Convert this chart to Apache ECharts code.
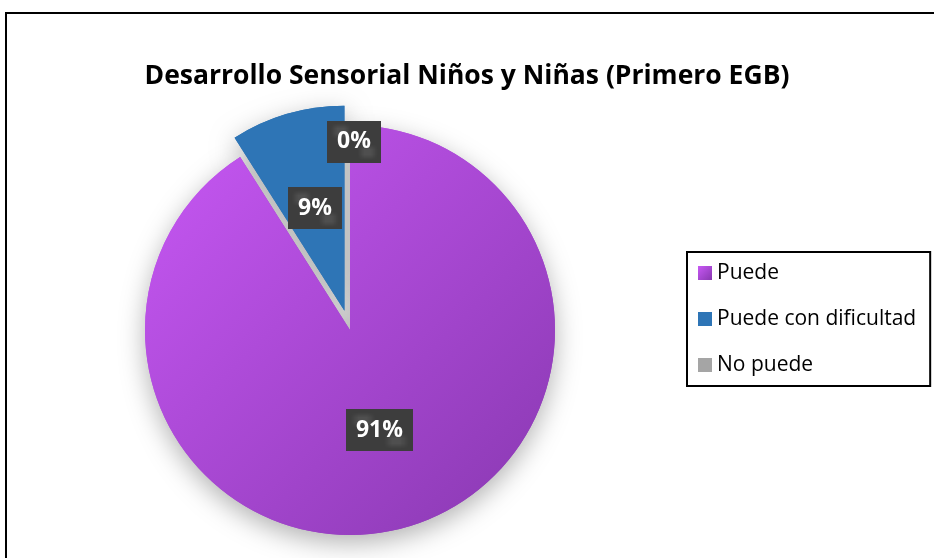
<!DOCTYPE html>
<html>
<head>
<meta charset="utf-8">
<script src="https://cdn.jsdelivr.net/npm/echarts@6/dist/echarts.min.js"></script>
<style>
  html, body { margin: 0; padding: 0; background: #fff; }
  #chart { width: 934px; height: 558px; }
</style>
</head>
<body>
<div id="chart"></div>
<script>
var categories = ['Puede', 'Puede con dificultad', 'No puede'];
var values = [91, 9, 0];
var titleText = 'Desarrollo Sensorial Niños y Niñas (Primero EGB)';

// little dotted tile for the label boxes
var tile = document.createElement('canvas');
tile.width = 8; tile.height = 8;
var g = tile.getContext('2d');
g.fillStyle = '#3d3d3d';
g.fillRect(0, 0, 8, 8);
g.fillStyle = 'rgba(255,255,255,0.13)';
g.beginPath(); g.arc(2, 2, 1, 0, Math.PI * 2); g.fill();
g.beginPath(); g.arc(6, 6, 1, 0, Math.PI * 2); g.fill();

var colors = [
  new echarts.graphic.LinearGradient(0, 0, 1, 1, [
    { offset: 0, color: '#c858f5' },
    { offset: 1, color: '#8838b0' }
  ]),
  '#2e75b6',
  '#a5a5a5'
];
// nudges so labels sit where the original has them
var labelShift = [[0, -1], [0, -1], [4, -83]];

function pieData() {
  return categories.map(function (name, i) {
    return {
      name: name,
      value: values[i],
      selected: i === 1,
      itemStyle: { color: colors[i] }
    };
  });
}

var pieBase = {
  type: 'pie',
  center: [350, 330],
  radius: 205,
  startAngle: 90,
  selectedMode: 'single',
  selectedOffset: 20,
  emphasis: { disabled: true },
  labelLine: { show: false }
};

var chart = echarts.init(document.getElementById('chart'));
chart.setOption({
  animation: false,
  title: {
    text: titleText,
    left: 'center',
    top: 58,
    textStyle: { fontFamily: 'Open Sans', fontWeight: 'bold', fontSize: 26.5, color: '#000' }
  },
  legend: {
    orient: 'vertical',
    left: 687,
    top: 252,
    padding: [10, 14, 10, 11],
    itemGap: 24,
    itemWidth: 14,
    itemHeight: 14,
    icon: 'rect',
    borderColor: '#000',
    borderWidth: 2,
    selectedMode: false,
    textStyle: { fontFamily: 'Open Sans', fontSize: 21, lineHeight: 22, color: '#000' },
    data: categories
  },
  graphic: [{
    type: 'rect',
    silent: true,
    shape: { x: 6, y: 13, width: 1000, height: 1000 },
    style: { fill: 'none', stroke: '#000', lineWidth: 2 }
  }],
  series: [
    // shadow layer underneath
    Object.assign({}, pieBase, {
      z: 1,
      silent: true,
      label: { show: false },
      itemStyle: {
        shadowBlur: 26,
        shadowColor: 'rgba(0,0,0,0.3)',
        shadowOffsetY: 8
      },
      data: pieData()
    }),
    Object.assign({}, pieBase, {
      z: 2,
      label: {
        position: 'inside',
        formatter: '{c}%',
        color: '#fff',
        fontFamily: 'Open Sans',
        fontWeight: 'bold',
        fontSize: 23,
        backgroundColor: { image: tile },
        padding: [10, 10, 9, 10]
      },
      labelLayout: function (p) {
        var s = labelShift[p.dataIndex];
        return { dx: s[0], dy: s[1] };
      },
      data: pieData()
    })
  ]
});
</script>
</body>
</html>
